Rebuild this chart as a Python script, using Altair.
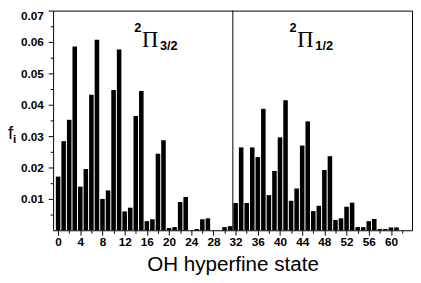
import altair as alt
import pandas as pd

# hyperfine state index and population fraction f_i
states = list(range(63))
f_values = [
    0.0171, 0.0284, 0.0352, 0.0586, 0.0139, 0.0195, 0.0432, 0.0607, 0.0100, 0.0127,
    0.0447, 0.0576, 0.0060, 0.0072, 0.0364, 0.0444, 0.0029, 0.0035, 0.0244, 0.0287,
    0.0007, 0.0010, 0.0090, 0.0106, 0.0000, 0.0004, 0.0035, 0.0038, 0.0000, 0.0000,
    0.0010, 0.0013, 0.0087, 0.0264, 0.0087, 0.0264, 0.0233, 0.0387, 0.0112, 0.0189,
    0.0296, 0.0414, 0.0094, 0.0133, 0.0270, 0.0347, 0.0061, 0.0078, 0.0192, 0.0236,
    0.0033, 0.0038, 0.0075, 0.0088, 0.0010, 0.0010, 0.0029, 0.0036, 0.0004, 0.0004,
    0.0009, 0.0009, 0.0000,
]
divider_state = [31.5]
manifold_sub = ["3/2", "1/2"]
manifold_x = [16.6, 44.6]
manifold_y = [0.0584, 0.0584]
x_tick_values = list(range(0, 63, 2))
y_tick_values = [0.005, 0.01, 0.015, 0.02, 0.025, 0.03, 0.035, 0.04, 0.045, 0.05, 0.055, 0.06, 0.065, 0.07]
x_domain = [-0.9, 63.8]
y_domain = [0, 0.07]

bars_df = pd.DataFrame({"state": states, "f": f_values})
div_df = pd.DataFrame({"state": divider_state})
lab_df = pd.DataFrame({"state": manifold_x, "f": manifold_y, "sub": manifold_sub})

FONT = "Liberation Sans"

x_scale = alt.Scale(domain=x_domain, nice=False, zero=False)
y_scale = alt.Scale(domain=y_domain, nice=False)

x_axis = alt.Axis(
    values=x_tick_values,
    labelExpr="datum.value % 4 == 0 ? datum.label : ''",
    labelOverlap=False,
    tickSize={"condition": {"test": "datum.value % 4 == 0", "value": 5}, "value": 3},
    tickColor="black",
    domain=False,
    grid=False,
    labelFont=FONT,
    labelFontSize=12,
    labelFontWeight="bold",
    labelColor="black",
    labelPadding=2,
    title="OH hyperfine state",
    titleFont=FONT,
    titleFontSize=21,
    titleFontWeight="normal",
    titleColor="black",
    titleBaseline="alphabetic",
    titleY=41,
)
y_axis = alt.Axis(
    values=y_tick_values,
    labelExpr="round(datum.value * 1000) % 10 == 0 ? format(datum.value, '.2f') : ''",
    labelOverlap=False,
    tickSize={"condition": {"test": "round(datum.value * 1000) % 10 == 0", "value": 5}, "value": 3},
    tickColor="black",
    domain=False,
    grid=False,
    labelFont=FONT,
    labelFontSize=12,
    labelFontWeight="bold",
    labelColor="black",
    labelPadding=5,
    labelFlush=True,
    title=None,
)


def X(field):
    return alt.X(field, type="quantitative", scale=x_scale, axis=x_axis, title="OH hyperfine state")


def Y(field):
    return alt.Y(field, type="quantitative", scale=y_scale, axis=y_axis, title=None)


bars = (
    alt.Chart(bars_df)
    .transform_calculate(x0="datum.state - 0.41", x1="datum.state + 0.41")
    .mark_bar(color="black")
    .encode(
        x=X("x0"),
        x2="x1:Q",
        y=Y("f"),
        y2=alt.datum(0),
    )
)

divider = (
    alt.Chart(div_df)
    .mark_rule(color="black", strokeWidth=1)
    .encode(x=X("state"), y=alt.value(0), y2=alt.value(224))
)

pi = (
    alt.Chart(lab_df)
    .mark_text(text="\u03a0", font="Liberation Serif", fontSize=23, align="center", baseline="alphabetic", color="black")
    .encode(x=X("state"), y=Y("f"))
)
sup = (
    alt.Chart(lab_df)
    .mark_text(text="2", font=FONT, fontSize=13, fontWeight="bold", align="right", baseline="alphabetic", dx=-9, dy=-15, color="black")
    .encode(x=X("state"), y=Y("f"))
)
sub = (
    alt.Chart(lab_df)
    .mark_text(font=FONT, fontSize=13, fontWeight="bold", align="left", baseline="alphabetic", dx=10, dy=3, color="black")
    .encode(x=X("state"), y=Y("f"), text="sub:N")
)

f_label = (
    alt.Chart(pd.DataFrame({"t": ["f"]}))
    .mark_text(font=FONT, fontSize=19, align="left", baseline="alphabetic", color="black")
    .encode(x=alt.value(-46), y=alt.value(131), text="t:N")
)
i_label = (
    alt.Chart(pd.DataFrame({"t": ["i"]}))
    .mark_text(font=FONT, fontSize=12, fontWeight="bold", align="left", baseline="alphabetic", color="black")
    .encode(x=alt.value(-41), y=alt.value(135), text="t:N")
)

chart = (
    alt.layer(bars, divider, pi, sup, sub, f_label, i_label)
    .properties(
        width=366,
        height=224,
        autosize=alt.AutoSizeParams(type="none"),
        padding={"left": 46, "top": 0, "right": 1, "bottom": 45},
        background="white",
    )
    .configure_view(stroke="black", strokeWidth=1)
)

chart.save("out.html", embed_options={"renderer": "svg", "actions": False})
